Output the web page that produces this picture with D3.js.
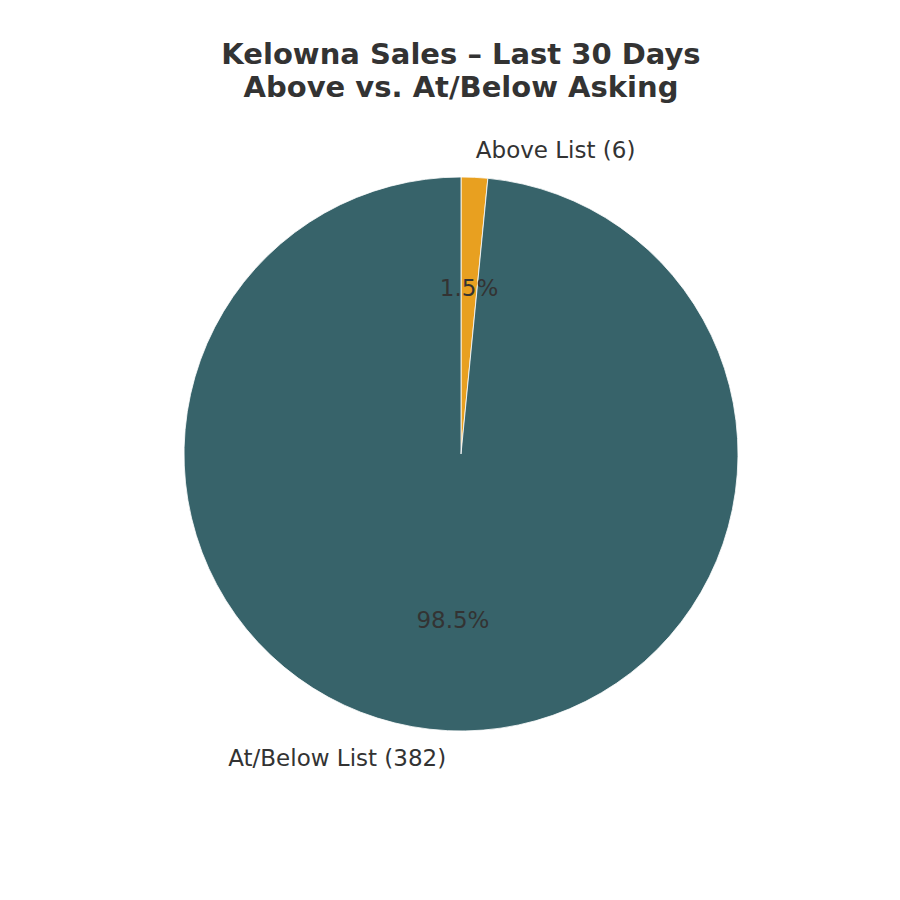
<!DOCTYPE html>
<html><head><meta charset="utf-8">
<script src="https://cdn.jsdelivr.net/npm/d3@7"></script>
<style>body{margin:0;background:#fff}svg{display:block}</style>
</head><body>
<script>
const titleLines = ["Kelowna Sales – Last 30 Days", "Above vs. At/Below Asking"];
const categories = ["Above List", "At/Below List"];
const counts = [6, 382];
const colors = ["#E8A020", "#37636A"];

const W = 900, H = 900;
const cx = 461, cy = 454, R = 277;
const svg = d3.select("body").append("svg").attr("width", W).attr("height", H);

svg.selectAll("text.title").data(titleLines).enter().append("text")
  .attr("x", 461).attr("y", (d,i) => 63.5 + i*33.5)
  .attr("text-anchor", "middle")
  .style("font-family", "DejaVu Sans").style("font-weight", "bold").style("font-size", "29px")
  .attr("fill", "#333333").text(d => d);

const data = categories.map((c,i) => ({cat:c, n:counts[i], color:colors[i]}));
const total = d3.sum(counts);
const pie = d3.pie().value(d => d.n).sort(null);
const arcs = pie(data);
const arc = d3.arc().innerRadius(0).outerRadius(R);
const g = svg.append("g").attr("transform", `translate(${cx},${cy})`);
g.selectAll("path").data(arcs).enter().append("path")
  .attr("d", arc).attr("fill", d => d.data.color)
  .attr("stroke", "#fff").attr("stroke-width", 0.8).attr("stroke-linejoin","round");

arcs.forEach(a => {
  const m = (a.startAngle + a.endAngle)/2;
  const sx = Math.sin(m), sy = -Math.cos(m);
  const lx = 1.1*R*sx, ly = 1.1*R*sy;
  g.append("text").attr("x", lx).attr("y", ly).attr("dy","0.35em")
    .attr("text-anchor", lx > 0 ? "start" : "end")
    .style("font-family","DejaVu Sans").style("font-size","23px")
    .attr("fill","#333333").text(`${a.data.cat} (${a.data.n})`);
  g.append("text").attr("x", 0.6*R*sx).attr("y", 0.6*R*sy).attr("dy","0.35em")
    .attr("text-anchor","middle")
    .style("font-family","DejaVu Sans").style("font-size","23px")
    .attr("fill","#333333").text(d3.format(".1f")(a.data.n/total*100) + "%");
});
</script>
</body></html>
